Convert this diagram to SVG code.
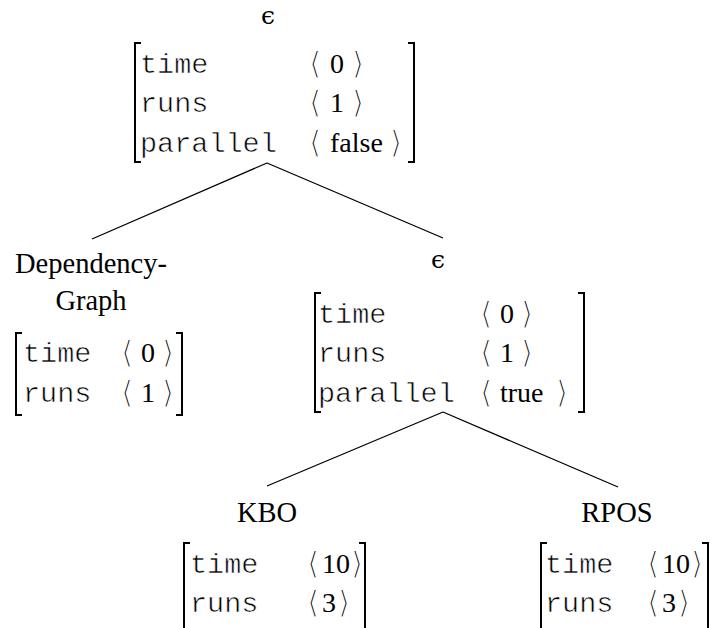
<svg xmlns="http://www.w3.org/2000/svg" width="722" height="628" viewBox="0 0 722 628">
<style>
.key{font-family:"Liberation Mono","DejaVu Sans Mono",monospace;font-size:28.5px;fill:#000;stroke:#fff;stroke-width:0.6px}
.val{font-family:"Liberation Serif","DejaVu Serif",serif;font-size:28px;fill:#000}
.ang{font-family:"DejaVu Sans","Liberation Serif",serif;font-size:31px;fill:#000;stroke:#fff;stroke-width:1.3px}
.lab{font-family:"Liberation Serif","DejaVu Serif",serif;font-size:28.5px;fill:#000;text-anchor:middle}
.eps{font-family:"DejaVu Serif","Liberation Serif",serif;font-size:25px;fill:#000;text-anchor:middle}
.br{fill:none;stroke:#000;stroke-width:2}
.edge{stroke:#000;stroke-width:1.3;fill:none}
</style>
<rect width="722" height="628" fill="#fff"/>
<g id="connectors">
<line class="edge" x1="267" y1="163" x2="92" y2="239"/>
<line class="edge" x1="267" y1="163" x2="443" y2="238"/>
<line class="edge" x1="443" y1="412" x2="267" y2="486"/>
<line class="edge" x1="443" y1="412" x2="618" y2="487"/>
</g>
<g id="n-root">
<text class="eps" x="268" y="24">ϵ</text>
<path class="br" d="M141 43H135V162H141"/>
<path class="br" d="M408 43H414V162H408"/>
<text class="key" x="140" y="73">time</text>
<text class="key" x="140" y="112">runs</text>
<text class="key" x="140" y="152">parallel</text>
<text class="ang" x="309" y="74">⟨</text><text class="val" x="330" y="73">0</text><text class="ang" x="352" y="74">⟩</text>
<text class="ang" x="309" y="113">⟨</text><text class="val" x="330" y="112">1</text><text class="ang" x="352" y="113">⟩</text>
<text class="ang" x="309" y="153">⟨</text><text class="val" x="330" y="152">false</text><text class="ang" x="390" y="153">⟩</text>
</g>
<g id="n-dep">
<text class="lab" x="91" y="273">Dependency-</text>
<text class="lab" x="91" y="310">Graph</text>
<path class="br" d="M22 333H16V415H22"/>
<path class="br" d="M176 333H182V415H176"/>
<text class="key" x="23" y="362">time</text>
<text class="key" x="23" y="402">runs</text>
<text class="ang" x="121" y="363">⟨</text><text class="val" x="141" y="362">0</text><text class="ang" x="162" y="363">⟩</text>
<text class="ang" x="121" y="403">⟨</text><text class="val" x="141" y="402">1</text><text class="ang" x="162" y="403">⟩</text>
</g>
<g id="n-mid">
<text class="eps" x="438" y="268">ϵ</text>
<path class="br" d="M321 293H315V412H321"/>
<path class="br" d="M578 293H584V412H578"/>
<text class="key" x="318" y="323">time</text>
<text class="key" x="318" y="362">runs</text>
<text class="key" x="318" y="402">parallel</text>
<text class="ang" x="480" y="324">⟨</text><text class="val" x="500" y="323">0</text><text class="ang" x="521" y="324">⟩</text>
<text class="ang" x="480" y="363">⟨</text><text class="val" x="500" y="362">1</text><text class="ang" x="521" y="363">⟩</text>
<text class="ang" x="480" y="403">⟨</text><text class="val" x="500" y="402">true</text><text class="ang" x="556" y="403">⟩</text>
</g>
<g id="n-kbo">
<text class="lab" x="267" y="522">KBO</text>
<path class="br" d="M359 543H365V640"/>
<path class="br" d="M190 543H184V640"/>
<text class="key" x="190" y="573">time</text>
<text class="key" x="190" y="612">runs</text>
<text class="ang" x="307" y="574">⟨</text><text class="val" x="322" y="573">10</text><text class="ang" x="351" y="574">⟩</text>
<text class="ang" x="307" y="613">⟨</text><text class="val" x="322" y="612">3</text><text class="ang" x="338" y="613">⟩</text>
</g>
<g id="n-rpos">
<text class="lab" x="617" y="522">RPOS</text>
<path class="br" d="M547 543H541V640"/>
<path class="br" d="M702 543H708V640"/>
<text class="key" x="545" y="573">time</text>
<text class="key" x="545" y="612">runs</text>
<text class="ang" x="647" y="574">⟨</text><text class="val" x="662" y="573">10</text><text class="ang" x="691" y="574">⟩</text>
<text class="ang" x="647" y="613">⟨</text><text class="val" x="662" y="612">3</text><text class="ang" x="678" y="613">⟩</text>
</g>
</svg>
